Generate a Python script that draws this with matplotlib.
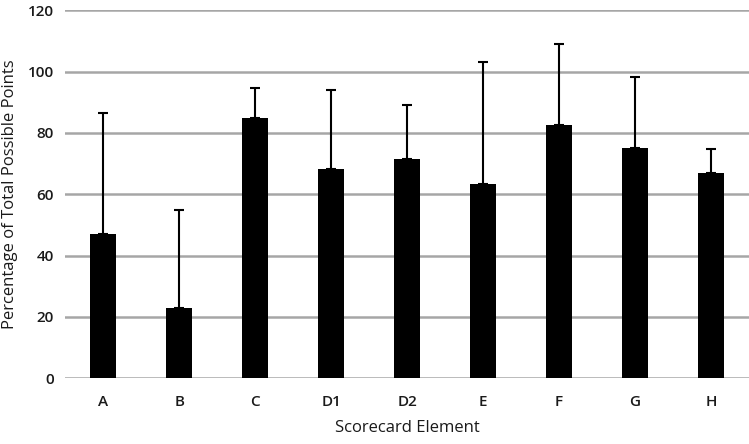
import matplotlib
matplotlib.use("Agg")
import matplotlib.pyplot as plt
import numpy as np

plt.rcParams.update({
    "font.family": ["Open Sans", "DejaVu Sans"],
    "font.size": 11,
    "font.weight": "semibold",
})

CATEGORIES = ["A", "B", "C", "D1", "D2", "E", "F", "G", "H"]
MEANS = [46.9, 22.9, 84.7, 68.2, 71.5, 63.4, 82.5, 75.0, 66.8]
SD = [39.5, 32.0, 10.1, 25.9, 17.6, 39.6, 26.6, 23.1, 8.1]

fig = plt.figure(figsize=(7.49, 4.44), dpi=100)
ax = fig.add_axes([0.087, 0.148, 0.913, 0.829])

x = np.arange(len(CATEGORIES))
yerr = [np.zeros(len(SD)), SD]
ax.bar(x, MEANS, width=0.34, color="black", zorder=3,
       yerr=yerr, error_kw=dict(ecolor="black", elinewidth=1.5, capsize=3.5,
                                capthick=1.5, zorder=4))

ax.set_xlim(-0.5, 8.5)
ax.set_ylim(0, 120)
ax.set_yticks(np.arange(0, 121, 20))
ax.set_xticks(x)
ax.set_xticklabels(CATEGORIES)
ax.grid(axis="y", color="#a6a6a6", linewidth=1.8, zorder=0)
ax.set_axisbelow(True)
for s in ax.spines.values():
    s.set_visible(False)
ax.tick_params(axis="both", length=0, colors="#1a1a1a", labelsize=11)
ax.tick_params(axis="x", pad=12)
ax.tick_params(axis="y", pad=8)

ax.set_xlabel("Scorecard Element", fontsize=12, color="#1a1a1a", labelpad=8)
ax.set_ylabel("Percentage of Total Possible Points", fontsize=12, color="#1a1a1a", labelpad=7)

fig.savefig("out.png", dpi=100)
